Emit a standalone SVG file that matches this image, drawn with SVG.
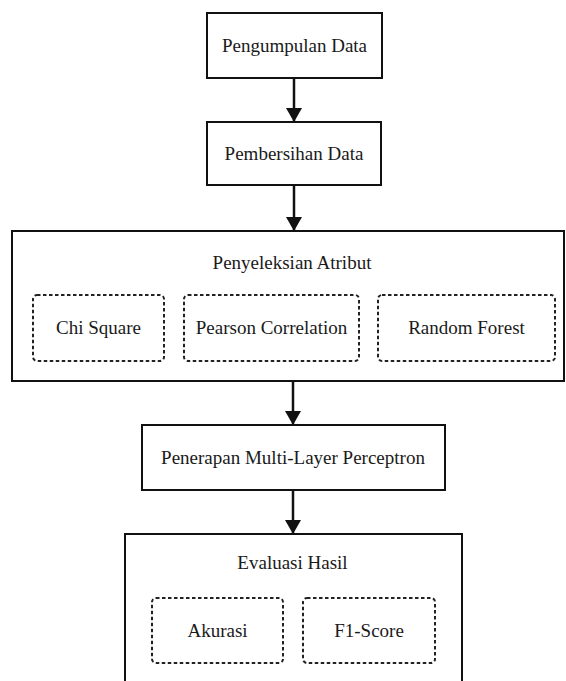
<svg xmlns="http://www.w3.org/2000/svg" width="566" height="681" viewBox="0 0 566 681">
<defs>
<style>
.box{fill:#fff;stroke:#111;stroke-width:2}
.dash{fill:none;stroke:#222;stroke-width:2;stroke-dasharray:3.5 2.5}
.c{stroke:#111;stroke-width:2.5;fill:none}
</style>
<marker id="ah" markerWidth="14" markerHeight="16" refX="14" refY="8" orient="auto" markerUnits="userSpaceOnUse" viewBox="0 0 14 16">
<path d="M0,0 L14,8 L0,16 Z" fill="#111"/>
</marker>
</defs>
<rect width="566" height="681" fill="#fff"/>
<g id="n1"><rect class="box" x="207" y="13" width="175" height="65"/><text style="font-family:'Liberation Serif',serif;font-size:19px;fill:#1a1a1a;text-anchor:middle" x="294.5" y="52">Pengumpulan Data</text></g>
<g id="n2"><rect class="box" x="207" y="122" width="174" height="63"/><text style="font-family:'Liberation Serif',serif;font-size:19px;fill:#1a1a1a;text-anchor:middle" x="294" y="160">Pembersihan Data</text></g>
<g id="n3"><rect class="box" x="12" y="231" width="552" height="150"/><text style="font-family:'Liberation Serif',serif;font-size:19px;fill:#1a1a1a;text-anchor:middle" x="292" y="269">Penyeleksian Atribut</text>
<g id="n3a"><rect class="dash" x="33" y="295" width="131" height="66" rx="4"/><text style="font-family:'Liberation Serif',serif;font-size:19px;fill:#1a1a1a;text-anchor:middle" x="98.5" y="334">Chi Square</text></g>
<g id="n3b"><rect class="dash" x="184" y="295" width="175" height="66" rx="4"/><text style="font-family:'Liberation Serif',serif;font-size:19px;fill:#1a1a1a;text-anchor:middle" x="271.5" y="334">Pearson Correlation</text></g>
<g id="n3c"><rect class="dash" x="378" y="295" width="177" height="66" rx="4"/><text style="font-family:'Liberation Serif',serif;font-size:19px;fill:#1a1a1a;text-anchor:middle" x="466.5" y="334">Random Forest</text></g>
</g>
<g id="n4"><rect class="box" x="142" y="425" width="303" height="65"/><text style="font-family:'Liberation Serif',serif;font-size:19px;fill:#1a1a1a;text-anchor:middle" x="293" y="464">Penerapan Multi-Layer Perceptron</text></g>
<g id="n5"><rect class="box" x="125" y="534" width="337" height="170"/><text style="font-family:'Liberation Serif',serif;font-size:19px;fill:#1a1a1a;text-anchor:middle" x="292.5" y="569">Evaluasi Hasil</text>
<g id="n5a"><rect class="dash" x="152" y="598" width="131" height="65" rx="4"/><text style="font-family:'Liberation Serif',serif;font-size:19px;fill:#1a1a1a;text-anchor:middle" x="217.5" y="637">Akurasi</text></g>
<g id="n5b"><rect class="dash" x="303" y="598" width="132" height="65" rx="4"/><text style="font-family:'Liberation Serif',serif;font-size:19px;fill:#1a1a1a;text-anchor:middle" x="369" y="637">F1-Score</text></g>
</g>
<g id="connectors">
<line class="c" x1="294" y1="78" x2="294" y2="122" marker-end="url(#ah)"/>
<line class="c" x1="294" y1="185" x2="294" y2="231" marker-end="url(#ah)"/>
<line class="c" x1="293" y1="381" x2="293" y2="425" marker-end="url(#ah)"/>
<line class="c" x1="293" y1="490" x2="293" y2="534" marker-end="url(#ah)"/>
</g>
</svg>
